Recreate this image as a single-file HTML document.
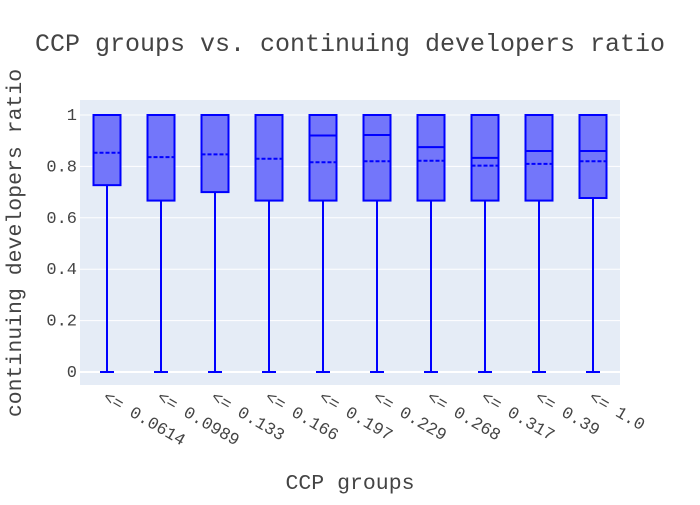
<!DOCTYPE html>
<html><head><meta charset="utf-8"><style>
body{margin:0;background:#fff;}
svg text{font-family:"Liberation Mono",monospace;fill:#444;}
</style></head><body>
<svg id="chart" width="700" height="500" xmlns="http://www.w3.org/2000/svg">
<rect x="0" y="0" width="700" height="500" fill="#fff"/>
<rect x="80" y="100" width="540" height="285" fill="#e5ecf6"/>
<g id="grid"></g>
<g id="boxes"></g>
<g id="xt"></g>
<text x="350" y="51" text-anchor="middle" font-size="25">CCP groups vs. continuing developers ratio</text>
<text x="350" y="489" text-anchor="middle" font-size="21.5">CCP groups</text>
<text transform="translate(21,243) rotate(-90)" text-anchor="middle" font-size="21.5">continuing developers ratio</text>
</svg>
<script>
const categories=["<= 0.0614","<= 0.0989","<= 0.133","<= 0.166","<= 0.197","<= 0.229","<= 0.268","<= 0.317","<= 0.39","<= 1.0"];
const q1s=[0.727,0.667,0.7,0.667,0.667,0.667,0.667,0.667,0.667,0.677];
const medians=[1,1,1,1,0.92,0.922,0.875,0.833,0.86,0.86];
const q3s=[1,1,1,1,1,1,1,1,1,1];
const means=[0.853,0.836,0.847,0.83,0.816,0.82,0.822,0.803,0.81,0.82];
const mins=[0,0,0,0,0,0,0,0,0,0];
const maxs=[1,1,1,1,1,1,1,1,1,1];
const yTicks=[0,0.2,0.4,0.6,0.8,1];
const NS="http://www.w3.org/2000/svg";
const y=v=>372-v*257;
const bw=540/categories.length;
const x=i=>80+bw*(i+0.5);
function mk(t,a,p){const e=document.createElementNS(NS,t);for(const k in a)e.setAttribute(k,a[k]);p.appendChild(e);return e;}
const grid=document.getElementById('grid');
yTicks.forEach(t=>{
  const l=mk('line',{x1:80,x2:620,y1:y(t),y2:y(t),stroke:'#fff','stroke-width':t===0?2:1},grid);
  
  
  const tx=mk('text',{x:77,y:y(t)+5,'text-anchor':'end','font-size':17},grid);
  tx.textContent=String(t);
  
  
});
const boxes=document.getElementById('boxes');
const xt=document.getElementById('xt');
categories.forEach((c,i)=>{
  const cx=x(i),w=27,hw=w/2;
  const g=mk('g',{},boxes);
  
  
  mk('line',{x1:cx,x2:cx,y1:y(q1s[i]),y2:y(mins[i]),stroke:'#0000ff','stroke-width':2},g);
  mk('line',{x1:cx,x2:cx,y1:y(q3s[i]),y2:y(maxs[i]),stroke:'#0000ff','stroke-width':2},g);
  mk('line',{x1:cx-7,x2:cx+7,y1:y(mins[i]),y2:y(mins[i]),stroke:'#0000ff','stroke-width':2},g);
  mk('rect',{x:cx-hw,y:y(q3s[i]),width:w,height:y(q1s[i])-y(q3s[i]),fill:'#7376fa',stroke:'#0000ff','stroke-width':2},g);
  mk('line',{x1:cx-hw,x2:cx+hw,y1:y(medians[i]),y2:y(medians[i]),stroke:'#0000ff','stroke-width':2},g);
  mk('line',{x1:cx-hw,x2:cx+hw,y1:y(means[i]),y2:y(means[i]),stroke:'#0000ff','stroke-width':2,'stroke-dasharray':'4,2'},g);
  const t=mk('text',{transform:`translate(${cx-5},${400}) rotate(30)`,'font-size':17},xt);
  t.textContent=c;
  
  
});
</script>
</body></html>
